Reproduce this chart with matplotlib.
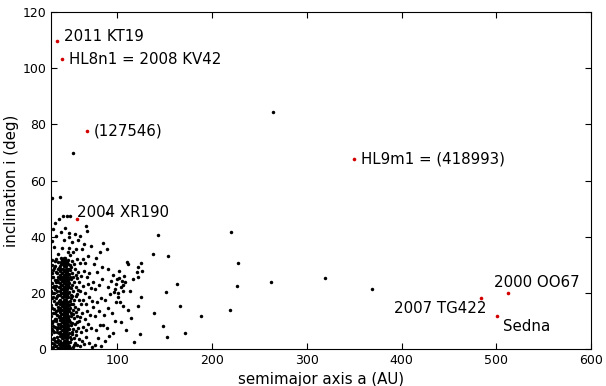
import matplotlib
matplotlib.use('Agg')
import matplotlib.pyplot as plt

# dense classical belt column: (inclination, [semimajor axes])
belt_rows = [
    (0.3, [39.5, 42.1, 44.3, 46.8]), (0.9, [40.6, 43.2, 45.5, 47.6]),
    (1.6, [39.2, 41.8, 44.0, 46.1]), (2.3, [40.3, 42.7, 45.2, 47.9]),
    (3.0, [39.6, 43.5, 44.8, 46.6]), (3.8, [41.1, 42.4, 45.9, 47.3]),
    (4.5, [39.3, 43.0, 44.4, 46.9]), (5.2, [40.8, 42.2, 45.3, 47.7]),
    (5.9, [39.8, 43.7, 44.9, 46.3]), (6.7, [41.4, 42.5, 45.7, 47.2]),
    (7.4, [39.4, 43.3, 44.1, 46.7]), (8.1, [40.7, 42.0, 45.1, 47.8]),
    (8.9, [39.9, 43.8, 44.6, 46.4]), (9.6, [41.2, 42.6, 45.8, 47.1]),
    (10.3, [39.5, 43.1, 44.2, 46.6]), (11.0, [40.5, 42.3, 45.4, 47.5]),
    (11.8, [39.7, 43.6, 44.7, 46.2]), (12.5, [41.0, 42.8, 45.6, 47.4]),
    (13.2, [39.3, 43.4, 44.3, 46.8]), (14.0, [40.9, 42.1, 45.0, 47.9]),
    (14.7, [39.6, 43.9, 44.5, 46.5]), (15.4, [41.3, 42.4, 45.9, 47.0]),
    (16.2, [39.4, 43.0, 44.0, 46.9]), (16.9, [40.6, 42.7, 45.2, 47.6]),
    (17.6, [39.8, 43.5, 44.8, 46.1]), (18.4, [41.1, 42.2, 45.5, 47.3]),
    (19.1, [39.5, 43.2, 44.4, 46.7]), (19.8, [40.4, 42.9, 45.7, 47.8]),
    (20.6, [39.7, 43.7, 44.6, 46.3]), (21.3, [41.0, 42.3, 45.3, 47.2]),
    (22.0, [39.3, 43.3, 44.1, 46.6]), (22.8, [40.8, 42.0, 45.8, 47.5]),
    (23.5, [39.9, 43.8, 44.9, 46.2]), (24.2, [41.2, 42.6, 45.1, 47.7]),
    (25.0, [39.6, 43.1, 44.3, 46.8]), (25.7, [40.5, 42.5, 45.6, 47.0]),
    (26.4, [39.4, 43.6, 44.7, 46.4]), (27.2, [41.3, 42.1, 45.4, 47.4]),
    (27.9, [39.8, 43.4, 44.2, 46.9]), (28.6, [40.7, 42.8, 45.9, 47.1]),
    (29.4, [39.5, 43.9, 44.5, 46.0]), (30.1, [41.0, 42.4, 45.0, 47.6]),
    (30.9, [40.2, 43.0, 44.8, 46.5]), (31.6, [41.5, 42.6, 45.3]),
    (32.3, [40.8, 43.5, 44.6]),
]

# scattered objects (a [AU], i [deg])
inner_pts = [(31.0, 2.1), (33.2, 4.0), (35.5, 1.2), (37.0, 3.3), (32.1, 6.5), (34.6, 7.8),
             (36.8, 5.9), (30.6, 9.4), (33.8, 10.6), (37.5, 9.0), (31.9, 12.7), (35.2, 13.5),
             (30.4, 15.8), (33.0, 17.0), (36.4, 16.3), (37.8, 19.2), (31.5, 19.9), (34.4, 21.5),
             (30.8, 23.4), (36.1, 24.6), (32.6, 25.8), (35.0, 27.3), (37.3, 28.6), (31.2, 29.8),
             (33.9, 31.4), (36.7, 12.0), (34.1, 3.0), (32.5, 0.7), (30.3, 5.2), (37.7, 0.5),
             (36.2, 20.8), (33.4, 14.2), (30.9, 27.0), (32.8, 22.6), (35.8, 18.0), (37.2, 25.5),
             (34.9, 9.8), (31.7, 8.1), (36.0, 7.0), (37.9, 14.8), (33.1, 29.0), (35.4, 24.0),
             (30.5, 20.5), (37.4, 31.0)]
inner_pts2 = [(30.9, 0.4), (32.9, 1.9), (34.8, 0.9), (36.4, 2.4), (38.2, 1.8), (31.6, 3.6),
              (35.9, 4.4), (38.0, 5.6), (30.6, 7.2), (33.3, 6.1), (37.0, 7.9), (32.2, 9.9),
              (35.7, 10.8), (38.1, 11.3), (30.5, 11.9), (34.0, 12.9), (37.1, 13.9), (31.4, 14.6),
              (35.0, 16.1), (38.2, 17.0), (32.4, 18.5), (36.8, 18.9), (30.7, 18.0), (33.6, 19.9),
              (38.0, 22.0), (31.9, 22.1), (35.3, 22.3), (37.6, 23.9), (33.8, 24.4), (30.6, 25.6),
              (36.6, 27.0), (32.3, 28.0), (34.5, 29.6), (38.1, 29.0), (30.8, 31.8), (35.6, 32.0)]
high_pts = [(32.0, 42.7), (30.7, 53.7), (39.8, 54.0), (33.5, 36.2), (43.0, 47.3), (46.6, 47.4),
            (50.0, 47.4), (38.8, 46.2), (31.2, 38.4), (35.4, 40.1), (41.5, 36.0), (44.2, 38.9),
            (47.8, 34.6), (36.9, 33.8), (40.2, 41.7), (45.3, 43.2), (34.0, 45.0), (48.5, 41.3),
            (52.9, 69.9)]
near_pts = [(48.8, 1.0), (50.5, 2.6), (52.7, 0.8), (55.0, 2.0), (57.9, 1.4), (49.6, 4.2),
            (51.8, 5.5), (54.1, 3.9), (56.6, 5.0), (59.2, 3.5), (48.9, 7.0), (50.9, 8.4),
            (53.3, 7.1), (55.8, 8.8), (58.4, 7.6), (49.3, 10.2), (51.4, 11.6), (54.6, 10.9),
            (57.1, 11.8), (59.8, 10.1), (48.7, 13.4), (50.2, 14.7), (52.9, 13.8), (55.3, 15.1),
            (58.0, 14.2), (49.8, 17.0), (51.6, 18.3), (54.0, 17.5), (56.9, 18.9), (59.5, 17.3),
            (48.6, 20.2), (50.7, 21.6), (53.5, 20.8), (55.9, 22.1), (58.7, 21.0), (49.4, 23.5),
            (51.2, 24.9), (54.3, 23.9), (57.4, 25.2), (48.9, 26.7), (50.4, 28.0), (52.6, 27.2),
            (55.6, 28.6), (58.2, 27.5), (49.7, 30.0), (51.9, 31.2), (54.8, 30.4), (57.0, 32.0),
            (50.1, 33.4), (53.1, 34.6), (48.5, 36.1), (56.3, 35.5), (52.0, 38.2), (49.2, 39.8),
            (55.1, 41.0), (58.8, 38.8)]
near_pts2 = [(48.4, 2.5), (49.9, 0.3), (51.3, 3.4), (53.9, 1.6), (49.1, 5.6), (52.2, 6.2),
             (48.3, 8.6), (50.0, 9.6), (52.4, 9.1), (48.2, 11.8), (50.6, 12.8), (53.6, 12.3),
             (49.0, 15.6), (51.5, 16.0), (53.2, 15.9), (48.3, 18.4), (50.6, 19.3), (52.6, 18.8),
             (49.4, 21.9), (52.0, 22.7), (48.4, 24.8), (50.0, 25.7), (53.6, 25.6), (49.1, 28.6),
             (51.4, 29.3), (48.1, 31.8), (56.2, 13.0), (57.7, 19.6), (56.0, 26.3), (59.1, 23.8),
             (56.3, 6.5), (57.5, 9.7)]
mid_pts = [(60.8, 0.9), (62.5, 3.0), (64.9, 1.7), (67.2, 4.4), (70.3, 2.3), (73.5, 0.6),
           (61.3, 6.2), (63.8, 7.9), (66.5, 6.8), (69.1, 9.0), (72.4, 7.3), (60.5, 11.4),
           (62.9, 12.9), (65.7, 10.7), (68.3, 13.6), (71.6, 12.1), (74.2, 14.8), (61.7, 16.0),
           (64.2, 17.6), (66.9, 15.9), (69.8, 18.4), (73.0, 17.2), (60.9, 20.8), (63.4, 22.5),
           (66.1, 20.1), (68.7, 23.3), (71.9, 21.7), (74.8, 24.0), (62.1, 26.1), (64.6, 27.9),
           (67.8, 25.7), (70.5, 27.0), (61.0, 30.5), (63.9, 32.2), (66.4, 30.8), (69.4, 33.0),
           (62.6, 35.6), (65.3, 37.4), (67.3, 43.9), (67.7, 42.1), (72.6, 36.6), (60.2, 40.3)]
outer_pts = [(76.1, 1.5), (79.4, 3.8), (83.0, 1.0), (86.8, 2.9), (91.2, 4.6), (95.8, 5.6),
             (77.5, 6.9), (81.2, 8.6), (84.6, 8.5), (88.9, 7.4), (97.2, 9.8), (76.8, 11.8),
             (80.3, 13.4), (85.5, 12.2), (90.1, 14.5), (94.7, 12.9), (78.2, 16.6), (82.6, 18.1),
             (87.3, 17.3), (92.4, 19.5), (98.5, 16.8), (76.5, 21.2), (80.9, 22.7), (84.2, 24.9),
             (89.7, 22.0), (93.8, 24.3), (97.9, 21.4), (78.9, 27.3), (83.7, 29.1), (90.5, 28.4),
             (95.1, 26.2), (99.3, 25.0), (77.1, 32.3), (81.8, 34.7), (85.2, 37.6), (88.8, 35.5),
             (89.1, 48.6), (75.6, 30.1)]
far_pts = [(101.2, 18.5), (103.5, 21.9), (104.8, 24.3), (106.1, 20.6), (107.4, 26.1), (102.3, 25.2),
           (105.6, 22.8), (108.2, 23.7), (100.4, 20.0), (103.0, 16.8), (98.7, 23.1), (96.5, 20.4),
           (101.8, 27.6), (106.3, 15.2), (111.0, 13.9), (110.0, 31.1), (111.0, 30.4), (121.5, 29.3),
           (120.5, 27.5), (126.4, 27.8), (121.5, 25.6), (125.4, 30.5), (125.0, 18.4), (121.5, 15.2),
           (123.7, 5.4), (104.0, 9.5), (108.7, 6.9), (114.5, 11.2), (117.6, 2.6), (113.2, 20.7),
           (116.4, 24.9)]
distant_pts = [(137.4, 33.9), (142.7, 40.5), (154.0, 33.1), (162.7, 23.1), (151.4, 20.2),
               (165.9, 15.2), (139.0, 12.7), (148.0, 8.3), (152.2, 4.3), (171.8, 5.8),
               (188.4, 11.7), (218.7, 13.9), (219.7, 41.7), (226.4, 22.4), (227.8, 30.5),
               (262.0, 23.7), (319.0, 25.3), (369.0, 21.4), (264.8, 84.3)]

# highlighted objects
names = ['2011 KT19', 'HL8n1 = 2008 KV42', '(127546)', '2004 XR190',
         'HL9m1 = (418993)', '2007 TG422', '2000 OO67', 'Sedna']
names_a = [36.0, 41.6, 68.0, 57.8, 350.0, 484.0, 512.0, 501.0]
names_i = [109.7, 103.1, 77.7, 46.3, 67.6, 18.3, 19.8, 11.6]
# label offsets in points and alignment
label_off = [(5, 3), (5, 0), (5, 0), (0, 5), (5, 0), (4, -8), (-10, 8), (4, -7)]
label_ha = ['left', 'left', 'left', 'left', 'left', 'right', 'left', 'left']

belt_a = [a for i, row in belt_rows for a in row]
belt_i = [i for i, row in belt_rows for a in row]
scatter_pts = (inner_pts + inner_pts2 + high_pts + near_pts + near_pts2 + mid_pts
               + outer_pts + far_pts + distant_pts)
all_a = belt_a + [p[0] for p in scatter_pts]
all_i = belt_i + [p[1] for p in scatter_pts]

fig = plt.figure(figsize=(6.06, 3.86), dpi=100)
ax = fig.add_axes([51 / 606, 37 / 386, 540 / 606, 337 / 386])

ax.plot(all_a, all_i, 'o', color='black', markersize=2.5, markeredgewidth=0)
ax.plot(names_a, names_i, 'o', color='#d40000', markersize=2.6, markeredgewidth=0)

for name, a, i, off, ha in zip(names, names_a, names_i, label_off, label_ha):
    ax.annotate(name, (a, i), xytext=off, textcoords='offset points',
                ha=ha, va='center', fontsize=10.8, color='black')

ax.set_xlim(30, 600)
ax.set_ylim(0, 120)
ax.set_xticks([100, 200, 300, 400, 500, 600])
ax.set_yticks([0, 20, 40, 60, 80, 100, 120])
ax.tick_params(direction='in', top=True, right=True, length=4, labelsize=9)
ax.set_xlabel('semimajor axis a (AU)', fontsize=10.8, labelpad=4)
ax.set_ylabel('inclination i (deg)', fontsize=10.8, labelpad=2)

fig.savefig('out.png', dpi=100)
